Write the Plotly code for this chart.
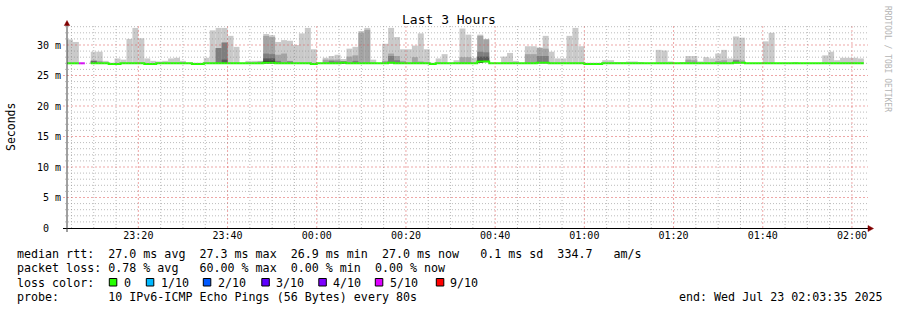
import plotly.graph_objects as go
from datetime import datetime, timedelta

# ---------------- data ----------------
STEP_SECONDS = 80
first_step = datetime(2025, 7, 22, 23, 4, 0)
range_start = "2025-07-22 23:04:00"
range_end = "2025-07-23 02:03:36"

# median rtt per step (ms)
median_ms = [
    27.0, 27.0, 27.0, None, 27.0, 27.0, 27.0, 26.9, 26.9, 27.0, 27.0, 27.0, 27.0, 26.9, 26.9,
    27.0, 27.0, 27.0, 27.0, 27.0, 27.0, 26.9, 26.9, 27.0, 27.0, 27.0, 27.0, 27.0, 27.0, 27.0,
    27.0, 27.0, 27.0, 27.1, 27.1, 27.0, 27.0, 27.0, 27.0, 27.0, 27.0, 26.9, 27.0, 27.0, 27.0,
    27.0, 27.1, 27.0, 27.0, 27.0, 27.0, 27.0, 27.0, 27.0, 27.1, 27.0, 27.0, 27.0, 27.0, 27.0,
    27.0, 26.9, 27.0, 27.0, 27.0, 27.0, 27.0, 27.0, 27.0, 27.3, 27.3, 27.0, 27.0, 27.0, 27.0,
    27.0, 27.0, 27.0, 27.0, 27.1, 27.1, 27.0, 27.0, 27.0, 27.0, 27.0, 27.0, 26.9, 26.9, 26.9,
    27.0, 27.0, 27.0, 27.0, 27.0, 27.0, 27.0, 27.0, 27.0, 27.0, 27.0, 27.0, 27.0, 27.0, 27.0,
    27.0, 27.0, 27.0, 27.0, 27.0, 27.0, 27.0, 27.1, 27.1, 27.0, 27.0, 27.0, 27.0, 27.0, 27.0,
    27.0, 27.0, 27.0, 27.0, 27.0, 27.0, 27.0, 27.0, 27.0, 27.0, 27.0, 27.0, 27.0, 27.0, None,
]

# lost pings out of 10 per step
loss_count = [
    0, 0, 6, None, 0, 0, 0, 0, 0, 0, 0, 0, 0, 0, 0,
    0, 0, 0, 0, 0, 0, 0, 0, 0, 0, 0, 0, 0, 0, 0,
    0, 0, 0, 0, 0, 0, 0, 0, 0, 0, 0, 0, 0, 0, 0,
    0, 0, 0, 0, 0, 0, 0, 0, 0, 0, 0, 0, 0, 0, 0,
    0, 0, 0, 0, 0, 0, 0, 0, 0, 0, 0, 0, 0, 0, 0,
    0, 0, 0, 0, 0, 0, 0, 0, 0, 0, 0, 0, 0, 0, 0,
    0, 0, 0, 0, 0, 0, 0, 0, 0, 0, 0, 0, 0, 0, 0,
    0, 0, 0, 0, 0, 0, 0, 0, 0, 0, 0, 0, 0, 0, 0,
    0, 0, 0, 0, 0, 0, 0, 0, 0, 0, 0, 0, 0, 0, None,
]

# slowest ping (top of outer smoke) per step (ms)
ping10_ms = [
    30.9, 30.5, 27.0, None, 28.9, 28.9, 27.4, 27.1, 27.8, 27.6, 31.0, 32.8, 31.1, 27.8, 27.4,
    27.3, 27.4, 27.8, 27.9, 27.4, 27.1, 27.1, 27.1, 27.9, 32.4, 32.8, 32.8, 31.5, 29.7, 27.1,
    27.4, 27.4, 27.4, 31.8, 31.6, 30.5, 30.8, 30.7, 30.0, 31.9, 32.8, 29.3, 27.1, 27.9, 28.2,
    28.4, 27.7, 29.4, 29.7, 32.3, 32.8, 27.6, 27.1, 30.2, 32.8, 31.3, 29.3, 29.3, 29.9, 31.9,
    29.3, 27.1, 27.8, 28.5, 27.1, 27.5, 32.7, 31.7, 27.9, 31.7, 31.0, 27.1, 27.1, 28.1, 28.7,
    27.4, 27.1, 29.8, 29.8, 29.6, 31.5, 28.9, 27.8, 27.8, 31.5, 32.8, 29.8, 27.1, 27.1, 27.1,
    27.5, 27.5, 27.2, 27.2, 27.3, 27.3, 27.2, 27.1, 27.1, 29.2, 29.1, 27.3, 27.1, 27.2, 28.2,
    28.2, 27.3, 28.0, 27.8, 28.6, 29.2, 27.8, 31.4, 31.2, 27.1, 27.1, 27.1, 30.6, 32.0, 27.1,
    27.1, 27.1, 27.2, 27.1, 27.1, 27.1, 27.1, 28.3, 28.9, 27.5, 27.9, 27.9, 27.9, 27.8, None,
]

_ = None
# 9th ping (top of second smoke layer)
ping9_ms = [
    _, _, _, _, 27.5, 27.4, _, _, _, _, _, _, _, _, _,
    _, _, _, _, _, _, _, _, _, _, 29.5, 30.4, _, _, _,
    _, _, 27.3, 31.5, 31.3, 28.4, 28.6, 27.4, _, _, _, _, _, 27.6, 27.6,
    27.6, 27.3, 28.1, 28.3, 32.0, 32.5, _, _, 27.4, 28.6, 28.2, 27.4, _, 28.0, 27.3,
    _, _, _, _, _, _, 28.0, 28.0, _, 31.5, 30.9, _, _, _, _,
    _, _, 28.5, 28.5, 29.5, 29.4, _, _, _, _, _, _, _, _, _,
    _, _, _, _, _, _, _, _, _, _, _, _, _, _, 27.6,
    27.5, _, _, _, 27.4, 27.5, _, 27.6, 27.5, _, _, _, _, _, _,
    _, _, _, _, _, _, _, _, _, _, _, _, _, _, _,
]
# 8th ping
ping8_ms = [
    _, _, _, _, 27.4, _, _, _, _, _, _, _, _, _, _,
    _, _, _, _, _, _, _, _, _, _, 29.5, 30.4, _, _, _,
    _, _, _, 28.6, 28.5, 27.4, _, 27.3, _, _, _, _, _, _, 27.4,
    27.3, 27.3, _, 27.4, _, _, _, _, _, 28.2, 27.5, _, _, _, _,
    _, _, _, _, _, _, _, _, _, 28.9, 28.8, _, _, _, _,
    _, _, _, _, 28.2, 28.2, _, _, _, _, _, _, _, _, _,
    _, _, _, _, _, _, _, _, _, _, _, _, _, _, _,
    _, _, _, _, _, _, _, 27.5, _, _, _, _, _, _, _,
    _, _, _, _, _, _, _, _, _, _, _, _, _, _, _,
]
# 7th ping
ping7_ms = [
    _, _, _, _, 27.3, _, _, _, _, _, _, _, _, _, _,
    _, _, _, _, _, _, _, _, _, _, _, 27.6, _, _, _,
    _, _, _, 27.8, 27.8, _, _, _, _, _, _, _, _, _, _,
    _, 27.25, _, _, _, _, _, _, _, _, _, _, _, _, _,
    _, _, _, _, _, _, _, _, _, 28.1, 28.1, _, _, _, _,
    _, _, _, _, _, _, _, _, _, _, _, _, _, _, _,
    _, _, _, _, _, _, _, _, _, _, _, _, _, _, _,
    _, _, _, _, _, _, _, _, _, _, _, _, _, _, _,
    _, _, _, _, _, _, _, _, _, _, _, _, _, _, _,
]
# 6th ping
ping6_ms = [
    _, _, _, _, _, _, _, _, _, _, _, _, _, _, _,
    _, _, _, _, _, _, _, _, _, _, _, _, _, _, _,
    _, _, _, 27.4, 27.4, _, _, _, _, _, _, _, _, _, _,
    _, 27.2, _, _, _, _, _, _, _, 27.2, _, _, _, _, _,
    _, _, _, _, _, _, _, _, _, 27.5, 27.4, _, _, _, _,
    _, _, _, _, _, _, _, _, _, _, _, _, _, _, _,
    _, _, _, _, _, _, _, _, _, _, _, _, _, _, _,
    _, _, _, _, _, _, _, _, _, _, _, _, _, _, _,
    _, _, _, _, _, _, _, _, _, _, _, _, _, _, _,
]

smoke_colors = ["#cacaca", "#a4a4a4", "#7e7e7e", "#585858", "#323232"]

loss_labels = ["0", "1/10", "2/10", "3/10", "4/10", "5/10", "9/10"]
loss_colors = ["#26ff00", "#00b8ff", "#0059ff", "#5e00ff", "#7e00ff", "#dd00ff", "#ff0000"]

y_tick_vals = [0, 5, 10, 15, 20, 25, 30]
y_tick_text = ["0\u00a0\u00a0", "5\u00a0m", "10\u00a0m", "15\u00a0m", "20\u00a0m", "25\u00a0m", "30\u00a0m"]

title_text = "Last 3 Hours"
legend_lines = [
    "median rtt:  27.0 ms avg  27.3 ms max  26.9 ms min  27.0 ms now   0.1 ms sd  334.7   am/s",
    "packet loss: 0.78 % avg   60.00 % max  0.00 % min  0.00 % now",
    "loss color:",
    "probe:       10 IPv6-ICMP Echo Pings (56 Bytes) every 80s",
]
end_text = "end: Wed Jul 23 02:03:35 2025"

# ---------------- layout geometry (pixels) ----------------
W, H = 897, 310
PX0, PX1 = 67, 868
PY_TOP, PY_BOT = 25, 228
MONO = "DejaVu Sans Mono"
Y_MAX = (PY_BOT - PY_TOP) / 6.1


def px(x):
    return x / W


def py(y):
    return 1 - y / H


N = len(median_ms)
starts = [first_step + timedelta(seconds=STEP_SECONDS * i) for i in range(N + 1)]
centers = [s + timedelta(seconds=STEP_SECONDS / 2) for s in starts[:N]]
fmt = "%Y-%m-%d %H:%M:%S"

fig = go.Figure()


def add_layer(tops, color):
    xs, ys, bases = [], [], []
    for i in range(N):
        t, m = tops[i], median_ms[i]
        if t is None or m is None or t <= m + 0.1:
            continue
        b = m - 0.1
        xs.append(centers[i].strftime(fmt))
        ys.append(t - b)
        bases.append(b)
    fig.add_trace(go.Bar(x=xs, y=ys, base=bases, width=STEP_SECONDS * 1000,
                         marker=dict(color=color, line=dict(width=0)),
                         showlegend=False, hoverinfo="skip"))


for tops, col in zip([ping10_ms, ping9_ms, ping8_ms, ping7_ms, ping6_ms], smoke_colors):
    add_layer(tops, col)


def loss_color(n):
    if n == 0:
        return loss_colors[0]
    if n <= 5:
        return loss_colors[n]
    if n < 9:
        return loss_colors[5]
    return loss_colors[6]


# median line segments coloured by loss
runs = []
cur = None
for i in range(N):
    m = median_ms[i]
    if m is None:
        cur = None
        continue
    c = loss_color(loss_count[i])
    if cur is not None and cur[0] == c and cur[1][-1] == i - 1:
        cur[1].append(i)
    else:
        cur = (c, [i])
        runs.append(cur)

by_color = {}
for c, idx in runs:
    xs, ys = by_color.setdefault(c, ([], []))
    for i in idx:
        xs.append(starts[i].strftime(fmt))
        ys.append(median_ms[i])
    xs.append(starts[idx[-1] + 1].strftime(fmt))
    ys.append(median_ms[idx[-1]])
    xs.append(None)
    ys.append(None)

for c, (xs, ys) in by_color.items():
    fig.add_trace(go.Scatter(x=xs, y=ys, mode="lines", line=dict(color=c, width=2, shape="hv"),
                             showlegend=False, hoverinfo="skip"))

MGRID = "rgba(222,79,79,0.5)"
GRID = "rgba(143,143,143,0.6)"

fig.update_layout(
    width=W, height=H,
    margin=dict(l=0, r=0, t=0, b=0, autoexpand=False),
    paper_bgcolor="white", plot_bgcolor="white",
    barmode="overlay", showlegend=False,
    font=dict(family=MONO, color="black"),
    xaxis=dict(
        type="date", domain=[px(PX0), px(PX1)], range=[range_start, range_end],
        tick0="2025-07-22 23:20:00", dtick=20 * 60 * 1000, tickformat="%H:%M",
        showgrid=False, automargin=False,
        ticks="", ticklen=0,
        tickfont=dict(family=MONO, size=10, color="black"),
        showline=False, zeroline=False, fixedrange=True,
    ),
    yaxis=dict(
        domain=[py(PY_BOT), py(PY_TOP)], range=[0, Y_MAX],
        tickvals=y_tick_vals, ticktext=y_tick_text,
        showgrid=False, automargin=False,
        ticks="outside", ticklen=3, tickcolor="rgba(0,0,0,0)",
        tickfont=dict(family=MONO, size=10, color="black"),
        showline=False, zeroline=False, fixedrange=True,
    ),
)

shapes = []
# grid drawn above the smoke, as rrdtool does
grid_start = datetime(2025, 7, 22, 23, 5, 0)
k = 0
while True:
    t = grid_start + timedelta(minutes=5 * k)
    if t > datetime(2025, 7, 23, 2, 3, 0):
        break
    major = (t.minute % 20 == 0)
    shapes.append(dict(type="line", xref="x", yref="y domain", x0=t.strftime(fmt), x1=t.strftime(fmt),
                       y0=0, y1=1, layer="above",
                       line=dict(color=MGRID if major else GRID, width=1,
                                 dash="2px,2px" if major else "1px,2px")))
    k += 1
for v in range(1, int(Y_MAX) + 1):
    major = (v % 5 == 0)
    shapes.append(dict(type="line", xref="paper", yref="y", x0=px(63 if major else 65), x1=px(PX1),
                       y0=v, y1=v, layer="above",
                       line=dict(color=MGRID if major else GRID, width=1,
                                 dash="2px,2px" if major else "1px,2px")))

shapes += [
    # axes
    dict(type="line", xref="paper", yref="paper", x0=px(63), x1=px(869), y0=py(228.5), y1=py(228.5),
         line=dict(color="#000000", width=1)),
    dict(type="line", xref="paper", yref="paper", x0=px(67), x1=px(67), y0=py(232), y1=py(22),
         line=dict(color="#404040", width=1)),
    # arrows
    dict(type="path", xref="paper", yref="paper",
         path=f"M {px(64.3)} {py(25.5)} L {px(69.7)} {py(25.5)} L {px(67)} {py(20.5)} Z",
         fillcolor="#800000", line=dict(color="#800000", width=0.5)),
    dict(type="path", xref="paper", yref="paper",
         path=f"M {px(868)} {py(225.5)} L {px(868)} {py(231.5)} L {px(873.5)} {py(228.5)} Z",
         fillcolor="#800000", line=dict(color="#800000", width=0.5)),
]

# loss colour legend boxes and labels
label_x = [123, 160, 217, 275.5, 332.5, 389, 450]
annotations = []
for lx, lab, col in zip(label_x, loss_labels, loss_colors):
    bx = lx - 13.7
    shapes.append(dict(type="rect", xref="paper", yref="paper", x0=px(bx), x1=px(bx + 7.5),
                       y0=py(286), y1=py(278.5), fillcolor=col, line=dict(color="black", width=1)))
    annotations.append(dict(text=lab, xref="paper", yref="paper", x=px(lx - 0.5), y=py(282.5),
                            xanchor="left", yanchor="middle", showarrow=False, borderpad=0,
                            font=dict(family=MONO, size=11.66, color="black")))

fig.update_layout(shapes=shapes)

line_y = [254.3, 268.3, 282.5, 296.7]
for txt, ly in zip(legend_lines, line_y):
    annotations.append(dict(text=txt.replace(" ", "\u00a0"), xref="paper", yref="paper",
                            x=px(15.5), y=py(ly), xanchor="left", yanchor="middle",
                            showarrow=False, borderpad=0,
                            font=dict(family=MONO, size=11.66, color="black")))

annotations.append(dict(text=end_text.replace(" ", "\u00a0"), xref="paper", yref="paper",
                        x=px(677.5), y=py(296.7), xanchor="left", yanchor="middle",
                        showarrow=False, borderpad=0,
                        font=dict(family=MONO, size=11.66, color="black")))

annotations.append(dict(text=title_text.replace(" ", "\u00a0"), xref="paper", yref="paper",
                        x=px(448.5), y=py(19.5), xanchor="center", yanchor="middle",
                        showarrow=False, borderpad=0,
                        font=dict(family=MONO, size=13, color="black")))

annotations.append(dict(text="Seconds", xref="paper", yref="paper", x=px(11), y=py(127),
                        xanchor="center", yanchor="middle", textangle=-90, showarrow=False,
                        borderpad=0, font=dict(family=MONO, size=11.5, color="black")))

annotations.append(dict(text="RRDTOOL\u00a0/\u00a0TOBI\u00a0OETIKER", xref="paper", yref="paper",
                        x=px(887), y=py(59), xanchor="center", yanchor="middle", textangle=90,
                        showarrow=False, borderpad=0,
                        font=dict(family=MONO, size=8, color="#b4b4b4")))

fig.update_layout(annotations=annotations)

fig.write_html("out.html")
